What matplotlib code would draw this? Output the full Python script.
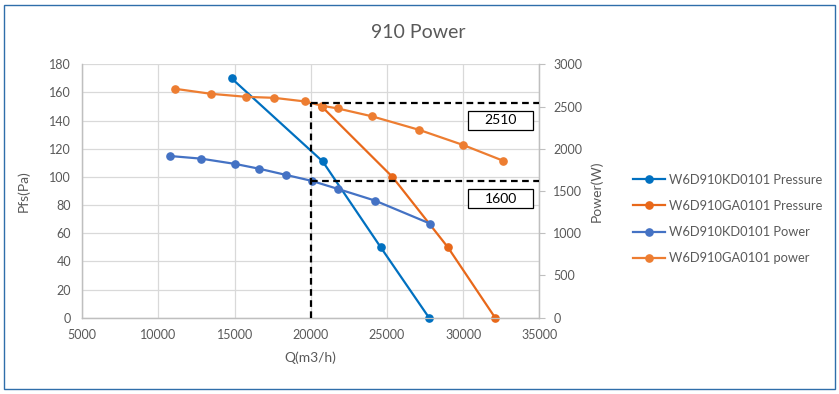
import matplotlib
matplotlib.use("Agg")
import matplotlib.pyplot as plt
from matplotlib.patches import Rectangle

plt.rcParams['font.family'] = ['Lato', 'DejaVu Sans']

# Data
kd_pressure_q = [14800, 20780, 24590, 27760]
kd_pressure_pa = [170, 111, 50, 0]

ga_pressure_q = [20720, 25360, 29000, 32100]
ga_pressure_pa = [150, 100, 50, 0]

kd_power_q = [10770, 12800, 15050, 16600, 18380, 20060, 21770, 24220, 27830]
kd_power_w = [1914, 1883, 1820, 1764, 1690, 1620, 1525, 1386, 1114]

ga_power_q = [11090, 13430, 15750, 17590, 19620, 20720, 21770, 24000, 27110, 29980, 32600]
ga_power_w = [2710, 2651, 2615, 2603, 2560, 2510, 2477, 2385, 2224, 2046, 1860]

duty_q = 20000
duty_power = [2540, 1620]
duty_labels = ['2510', '1600']

labels = ['W6D910KD0101 Pressure', 'W6D910GA0101 Pressure',
          'W6D910KD0101 Power', 'W6D910GA0101 power']

W, H = 839, 394
TXT = '#595959'
GRID = '#D9D9D9'

fig = plt.figure(figsize=(W / 100, H / 100), dpi=100)
ax = fig.add_axes([82.3 / W, 1 - 317.7 / H, (539.3 - 82.3) / W, (317.7 - 64.3) / H])
ax2 = ax.twinx()

# frame around the whole chart
fig.add_artist(Rectangle((3.5 / W, 5 / H), 831 / W, 384 / H, transform=fig.transFigure,
                         fill=False, edgecolor='#2F6EAA', linewidth=1.0))

lw = 1.6
ms = 5.2
l1, = ax.plot(kd_pressure_q, kd_pressure_pa, '-o', color='#0070C0', lw=lw, ms=ms, zorder=3, clip_on=False)
l2, = ax.plot(ga_pressure_q, ga_pressure_pa, '-o', color='#E8681A', lw=lw, ms=ms, zorder=3, clip_on=False)
l3, = ax2.plot(kd_power_q, kd_power_w, '-o', color='#4472C4', lw=lw, ms=ms, zorder=3, clip_on=False)
l4, = ax2.plot(ga_power_q, ga_power_w, '-o', color='#ED7D31', lw=lw, ms=ms, zorder=3, clip_on=False)

# duty point reference lines
ax2.plot([duty_q, duty_q], [0, duty_power[0]], color='black', lw=1.6, ls=(0, (3, 2)), zorder=4)
for p in duty_power:
    ax2.plot([duty_q, 35000], [p, p], color='black', lw=1.6, ls=(0, (3, 2)), zorder=4)

ax.set_xlim(5000, 35000)
ax.set_ylim(0, 180)
ax2.set_ylim(0, 3000)
ax.set_xticks(range(5000, 35001, 5000))
ax.set_yticks(range(0, 181, 20))
ax2.set_yticks(range(0, 3001, 500))

ax.grid(True, color=GRID, lw=0.9)
ax.set_axisbelow(True)
for a in (ax, ax2):
    a.spines['top'].set_visible(False)
    for s in ('left', 'right', 'bottom'):
        a.spines[s].set_color('#BFBFBF')
        a.spines[s].set_linewidth(0.9)
ax.tick_params(axis='both', length=0, labelsize=9, labelcolor=TXT, pad=8)
ax2.tick_params(axis='y', length=4, color='#BFBFBF', labelsize=9, labelcolor=TXT, pad=6)

ax.set_xlabel('Q(m3/h)', fontsize=10, color=TXT, labelpad=8)
ax.set_ylabel('Pfs(Pa)', fontsize=10, color=TXT, labelpad=14)
ax2.set_ylabel('Power(W)', fontsize=10, color=TXT, labelpad=6)

fig.text(418 / W, 1 - 32 / H, '910 Power', fontsize=14, color=TXT, ha='center', va='center')

# value boxes
for lab, ytop in zip(duty_labels, [110.7, 189.3]):
    fig.add_artist(Rectangle((468.3 / W, 1 - (ytop + 19) / H), 65 / W, 19 / H,
                             transform=fig.transFigure, facecolor='white',
                             edgecolor='black', linewidth=0.9, zorder=5))
    fig.text(500.8 / W, 1 - (ytop + 9.5) / H, lab, fontsize=10, color='black',
             ha='center', va='center', zorder=6)

fig.legend([l1, l2, l3, l4], labels, loc='center left', bbox_to_anchor=(621 / W, 1 - 219 / H),
           frameon=False, fontsize=9.3, labelcolor=TXT, handlelength=2.5, handletextpad=0.35,
           labelspacing=1.1)

fig.savefig('out.png', dpi=100)
